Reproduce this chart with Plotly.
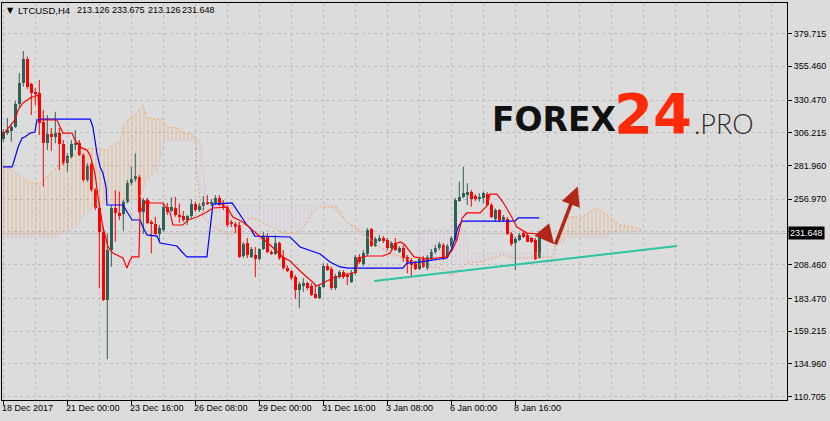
import numpy as np
import plotly.graph_objects as go

# ---------------- data ----------------
bars = list(range(135))
open_ = [301.4, 306.3, 307.8, 310.3, 327.3, 343.3, 360.7, 342.1, 336.6, 335.5,
         314.4, 298.4, 305.1, 302.9, 305.8, 297.7, 283.6, 288.5, 297.7, 298.4,
         289.7, 271.2, 283.1, 263.8, 250.2, 232.9, 182.3, 219.3, 250.2, 247.0,
         246.0, 255.1, 268.8, 271.7, 273.7, 247.7, 256.4, 240.3, 238.6, 231.2,
         234.2, 251.4, 248.5, 250.2, 245.3, 244.5, 241.6, 244.5, 253.4, 249.0,
         252.2, 255.1, 253.4, 253.9, 257.7, 254.4, 251.4, 240.3, 238.6, 237.9,
         214.9, 224.3, 214.4, 215.6, 212.5, 219.9, 229.2, 218.1, 216.2, 224.3,
         214.4, 206.2, 203.8, 199.6, 189.7, 193.4, 194.7, 192.7, 186.5, 183.6,
         192.2, 207.5, 205.0, 191.0, 199.1, 202.8, 200.8, 195.9, 202.1, 214.4,
         208.8, 216.2, 234.9, 222.5, 226.0, 228.5, 226.8, 220.6, 224.3, 218.1,
         220.6, 214.4, 211.9, 209.5, 205.3, 213.2, 205.8, 213.2, 217.6, 220.6,
         223.1, 214.4, 222.3, 226.8, 255.9, 258.4, 260.1, 262.6, 259.4, 256.9,
         257.7, 260.8, 252.7, 242.1, 249.0, 241.6, 242.1, 231.2, 224.3, 226.8,
         231.7, 230.5, 228.0, 226.8, 213.126]
high = [309.0, 317.2, 312.0, 329.8, 350.5, 366.8, 362.6, 343.3, 339.2, 345.3,
        323.1, 319.4, 309.8, 321.8, 309.8, 300.9, 291.0, 300.9, 308.3, 300.9,
        291.0, 283.6, 284.0, 265.3, 253.9, 236.6, 231.7, 252.7, 263.8, 262.6,
        256.4, 271.2, 281.1, 291.0, 274.9, 257.9, 257.9, 241.6, 244.0, 237.9,
        253.9, 254.2, 258.4, 258.8, 253.9, 248.2, 245.3, 256.9, 255.1, 254.2,
        259.4, 260.1, 257.1, 260.1, 260.1, 256.4, 252.7, 241.6, 240.1, 240.1,
        225.3, 228.2, 221.6, 221.6, 220.6, 232.9, 231.7, 219.3, 230.5, 225.5,
        219.3, 208.2, 204.5, 200.8, 195.9, 198.4, 195.9, 194.7, 193.4, 193.4,
        209.5, 209.5, 207.0, 201.6, 204.5, 204.5, 202.3, 204.5, 215.6, 216.4,
        219.3, 235.7, 235.7, 229.0, 230.5, 229.7, 228.2, 226.0, 228.2, 222.3,
        223.1, 215.6, 213.2, 211.2, 214.2, 214.9, 215.6, 220.1, 223.1, 225.3,
        224.5, 223.8, 229.7, 257.9, 270.0, 281.1, 268.8, 263.8, 260.8, 261.4,
        262.6, 262.3, 254.2, 250.2, 249.7, 245.3, 244.0, 232.9, 229.2, 232.0,
        233.4, 232.2, 229.0, 228.2, 233.675]
low = [299.4, 304.6, 299.6, 309.8, 325.3, 340.4, 338.7, 319.4, 326.8, 304.6,
       266.3, 293.4, 292.9, 298.4, 278.6, 282.3, 277.4, 287.3, 293.4, 289.0,
       270.0, 270.0, 262.6, 249.0, 191.0, 181.5, 138.4, 207.0, 225.5, 241.6,
       233.7, 253.9, 267.5, 270.0, 246.5, 231.2, 238.6, 216.9, 230.5, 225.5,
       232.9, 245.3, 247.7, 244.0, 239.6, 240.3, 237.9, 242.8, 247.7, 247.5,
       248.5, 252.7, 251.9, 252.7, 251.9, 249.0, 236.2, 236.4, 231.9, 213.4,
       213.4, 213.4, 213.4, 199.3, 211.4, 219.3, 216.9, 215.6, 215.6, 211.9,
       204.5, 203.0, 197.1, 183.0, 176.6, 188.4, 189.7, 185.3, 183.6, 183.0,
       191.0, 203.8, 189.7, 189.7, 197.9, 197.9, 193.4, 194.9, 200.8, 209.0,
       207.5, 214.9, 221.6, 221.6, 225.3, 224.5, 219.3, 219.3, 218.6, 217.1,
       210.7, 202.1, 199.6, 204.5, 204.5, 206.0, 204.5, 211.9, 216.4, 219.3,
       211.9, 213.4, 220.8, 226.0, 255.1, 257.7, 252.7, 251.4, 255.7, 255.1,
       253.9, 251.9, 243.1, 240.3, 240.1, 240.1, 230.5, 222.3, 204.5, 226.0,
       228.2, 225.3, 224.5, 211.9, 213.126]
close = [307.0, 308.3, 310.3, 327.3, 343.3, 360.7, 340.4, 335.9, 334.9, 313.7,
         298.9, 305.1, 302.9, 305.8, 297.7, 283.6, 289.0, 297.9, 298.9, 289.7,
         271.2, 281.6, 263.8, 250.2, 232.9, 182.3, 219.3, 250.2, 247.0, 244.5,
         255.1, 268.8, 271.7, 274.2, 247.7, 256.4, 239.6, 238.6, 231.2, 235.4,
         251.4, 247.7, 251.4, 245.3, 243.6, 241.6, 244.5, 253.4, 249.0, 252.2,
         255.1, 253.4, 255.1, 257.7, 252.7, 250.2, 237.9, 238.6, 236.4, 214.4,
         223.8, 215.6, 219.9, 212.7, 219.9, 229.2, 218.1, 216.2, 224.3, 213.2,
         205.8, 203.8, 198.4, 189.7, 194.2, 194.7, 191.2, 186.0, 184.0, 192.2,
         207.5, 204.5, 191.0, 200.1, 202.8, 199.1, 199.3, 202.1, 214.4, 210.5,
         217.3, 234.2, 222.5, 227.5, 228.5, 226.0, 220.6, 224.3, 219.3, 220.6,
         213.2, 210.7, 208.2, 205.3, 212.7, 207.0, 214.4, 218.1, 221.1, 223.6,
         213.2, 222.5, 228.0, 256.4, 258.8, 261.4, 262.6, 256.9, 256.9, 258.8,
         261.8, 252.7, 244.0, 249.0, 241.6, 243.6, 231.2, 223.8, 227.3, 230.5,
         229.2, 225.5, 225.5, 212.7, 231.648]

# Ichimoku lines (bar index, price)
tenkan_x = [-0.1, 2.9, 3.7, 4.9, 6.7, 8.7, 8.9, 9.7, 13.4, 14.2, 14.9, 17.2, 17.9, 19.2, 20.9,
            21.7, 22.9, 23.7, 24.9, 26.2, 27.4, 29.9, 30.9, 31.7, 32.2, 33.9, 34.2, 35.9, 36.7,
            39.9, 41.7, 42.4, 44.9, 46.2, 48.4, 50.9, 52.4, 55.9, 57.4, 59.9, 61.7, 64.2, 66.7,
            69.9, 71.7, 74.2, 76.7, 78.4, 80.4, 82.4, 84.2, 86.7, 88.2, 88.7, 90.9, 94.9, 96.7,
            97.9, 99.2, 100.2, 101.7, 102.7, 105.9, 110.9, 112.2, 113.4, 114.7, 115.9, 119.2,
            120.9, 121.7, 123.4, 124.9, 126.7, 128.4, 130.9, 134.0]
tenkan = [304.6, 315.7, 323.1, 328.3, 332.0, 334.2, 317.9, 315.7, 315.7, 310.5, 306.0, 306.0,
          300.9, 295.7, 293.4, 289.7, 276.4, 258.6, 236.4, 221.6, 217.1, 213.4, 206.0, 211.9,
          214.2, 214.2, 247.5, 256.4, 254.2, 254.2, 246.8, 237.9, 237.9, 241.6, 243.8, 247.5,
          250.5, 251.2, 243.8, 240.1, 235.7, 229.0, 223.1, 214.2, 211.2, 203.8, 197.1, 192.7,
          195.6, 198.6, 200.1, 201.6, 203.0, 213.4, 214.9, 214.9, 217.1, 223.8, 225.3, 223.8,
          217.9, 214.2, 212.7, 214.2, 219.3, 226.8, 243.1, 246.8, 246.8, 252.0, 260.8, 260.8,
          254.9, 246.0, 236.4, 231.9, 231.2]
kijun_x = [-0.1, 2.2, 2.9, 3.7, 4.7, 5.4, 6.7, 7.9, 8.4, 9.7, 21.7, 22.4, 22.9, 23.4, 24.2,
           24.9, 25.7, 25.9, 29.9, 31.2, 32.2, 34.2, 34.9, 35.9, 38.4, 39.2, 43.4, 44.7, 45.9,
           50.9, 51.4, 51.7, 52.2, 52.4, 57.2, 58.4, 59.2, 59.9, 60.9, 61.7, 62.9, 71.7, 72.9,
           74.2, 79.2, 81.7, 84.2, 86.2, 99.9, 100.9, 104.2, 110.9, 112.2, 113.7, 114.7, 127.9,
           128.7, 134.0]
kijun = [280.9, 280.9, 287.5, 295.7, 302.3, 303.1, 306.0, 306.8, 315.7, 316.4, 316.4, 310.5,
         300.9, 291.2, 280.9, 276.4, 266.0, 252.7, 252.7, 246.8, 241.6, 241.6, 236.4, 230.5,
         229.7, 224.5, 222.3, 217.9, 214.2, 214.2, 226.8, 236.4, 251.2, 253.4, 254.2, 249.0,
         245.3, 241.6, 237.9, 235.7, 229.7, 229.0, 225.3, 221.6, 216.4, 210.5, 206.8, 206.0,
         206.0, 209.7, 210.5, 213.4, 220.8, 236.4, 240.8, 240.8, 243.1, 243.1]
span_a_x = [-0.3, 2.9, 6.7, 9.2, 10.9, 13.4, 15.9, 19.2, 20.9, 25.9, 27.4, 29.2, 29.9, 31.2,
            33.4, 34.9, 35.9, 39.9, 40.9, 43.4, 44.7, 47.4, 48.2, 48.4, 49.2, 49.9, 52.4, 54.2,
            56.7, 59.2, 61.7, 63.4, 65.9, 68.4, 69.9, 73.4, 74.9, 77.4, 79.2, 83.4, 85.9, 89.2,
            90.9, 94.2, 96.7, 99.9, 102.4, 104.2, 106.7, 109.2, 110.9, 112.4, 113.4, 114.7,
            115.9, 119.2, 120.9, 123.4, 124.9, 127.4, 131.7, 134.2, 137.4, 137.9, 139.2, 139.7,
            140.9, 144.9, 147.4, 148.7, 150.9, 153.4, 154.2, 156.2, 159.7]
span_a = [283.8, 277.1, 269.0, 269.0, 273.4, 280.9, 286.0, 293.4, 294.9, 293.4, 297.2, 299.4,
          310.5, 315.7, 320.9, 326.8, 317.2, 315.7, 310.5, 309.8, 306.8, 304.6, 300.9, 274.9,
          256.4, 243.8, 236.4, 234.2, 229.0, 235.7, 243.1, 241.6, 237.9, 234.2, 231.9, 231.9,
          235.7, 246.8, 251.2, 251.2, 240.1, 234.2, 228.2, 221.6, 217.1, 214.2, 210.5, 208.2,
          206.8, 206.0, 202.3, 200.8, 203.1, 206.8, 209.7, 210.5, 211.9, 214.2, 215.6, 213.4,
          213.4, 214.2, 214.2, 223.1, 225.3, 235.7, 243.8, 243.8, 249.0, 250.5, 245.3, 240.1,
          237.9, 237.1, 234.2]
span_b_x = [-0.3, 13.4, 14.2, 18.4, 19.9, 21.7, 24.2, 32.4, 34.2, 35.9, 38.4, 40.4, 49.2, 49.9,
            50.9, 81.7, 84.2, 85.9, 88.4, 90.9, 96.7, 102.9, 103.4, 103.7, 115.9, 116.2, 136.2,
            136.4, 137.9, 138.2, 140.2, 140.8, 150.9, 151.7, 159.7]
span_b = [229.0, 229.0, 231.9, 236.4, 243.8, 249.0, 253.4, 256.4, 258.6, 271.2, 278.6, 300.9,
          300.9, 278.6, 252.7, 252.7, 245.3, 240.1, 232.7, 229.7, 215.6, 210.5, 210.5, 234.2,
          234.2, 217.1, 217.1, 210.5, 210.5, 224.5, 224.5, 229.0, 229.0, 231.9, 233.4]

trend_x = [92.7, 168.4]
trend_y = [196.4, 222.3]

x_label_bars = [0, 16, 32, 48, 64, 80, 96, 112, 128]
x_labels = ["18 Dec 2017", "21 Dec 00:00", "23 Dec 16:00", "26 Dec 08:00", "29 Dec 00:00",
            "31 Dec 16:00", "3 Jan 08:00", "6 Jan 00:00", "8 Jan 16:00"]
y_tick_vals = [379.715, 355.460, 330.470, 306.215, 281.960, 256.970, 232.715, 208.460,
               183.470, 159.215, 134.960, 110.705]
y_tick_text = ["379.715", "355.460", "330.470", "306.215", "281.960", "256.970", "",
               "208.460", "183.470", "159.215", "134.960", "110.705"]
last_price = 231.648
symbol_text = "LTCUSD,H4"
ohlc_text = ["213.126", "233.675", "213.126", "231.648"]

# ---------------- layout geometry ----------------
W, H = 830, 421
L, R, T, B = 2, 787, 3, 400
PW, PH = R - L, B - T
XR = [-0.325, -0.325 + PW / 4.0]
YR = [108.2, 402.4]


def px_x(px):
    return (px - L) / PW


def px_y(py):
    return (B - py) / PH


BG = "#dcdcdc"
GRID = "#bdbdbd"
BULL = "#2f5f55"
BEAR = "#ff0000"
FONT = "Liberation Sans"

fig = go.Figure()

# ---- cloud hatch ----
ax_ = np.asarray(span_a_x, float)
bx_ = np.asarray(span_b_x, float)
grid = np.union1d(ax_, bx_)
ga = np.interp(grid, ax_, span_a)
gb = np.interp(grid, bx_, span_b)
xs, ya, yb = [grid[0]], [ga[0]], [gb[0]]
for k in range(1, len(grid)):
    d0, d1 = ga[k - 1] - gb[k - 1], ga[k] - gb[k]
    if d0 * d1 < 0:
        t = d0 / (d0 - d1)
        xc = grid[k - 1] + t * (grid[k] - grid[k - 1])
        yc = ga[k - 1] + t * (ga[k] - ga[k - 1])
        xs.append(xc); ya.append(yc); yb.append(yc)
    xs.append(grid[k]); ya.append(ga[k]); yb.append(gb[k])
xs = np.array(xs); ya = np.array(ya); yb = np.array(yb)
top = np.maximum(ya, yb)

for lower, col in ((yb, "#f4a460"), (ya, "#d8bfd8")):
    fig.add_trace(go.Scatter(x=xs, y=lower, mode="lines", line=dict(width=0),
                             hoverinfo="skip", showlegend=False))
    fig.add_trace(go.Scatter(x=xs, y=top, mode="lines", line=dict(width=0), fill="tonexty",
                             fillcolor="rgba(0,0,0,0)",
                             fillpattern=dict(shape="|", fgcolor=col, bgcolor="rgba(0,0,0,0)",
                                              size=4, solidity=0.25, fgopacity=0.6),
                             hoverinfo="skip", showlegend=False))

fig.add_trace(go.Scatter(x=span_b_x, y=span_b, mode="lines",
                         line=dict(color="#d8bfd8", width=1, dash="2px,2px"),
                         hoverinfo="skip", showlegend=False))
fig.add_trace(go.Scatter(x=span_a_x, y=span_a, mode="lines",
                         line=dict(color="#f4a460", width=1, dash="2px,2px"),
                         hoverinfo="skip", showlegend=False))

# ---- bid line ----
fig.add_shape(type="line", xref="paper", yref="y", x0=0, x1=1, y0=last_price, y1=last_price,
              line=dict(color="#c0c0c0", width=1), layer="below")

# ---- candles ----
o = np.array(open_); h = np.array(high); lo = np.array(low); c = np.array(close)
up = c >= o
for mask, col in ((up, BULL), (~up, BEAR)):
    xi = np.array(bars)[mask]
    wx, wy = [], []
    for xv, hv, lv in zip(xi, h[mask], lo[mask]):
        wx += [xv, xv, None]
        wy += [lv, hv, None]
    fig.add_trace(go.Scatter(x=wx, y=wy, mode="lines", line=dict(color=col, width=1),
                             hoverinfo="skip", showlegend=False))
    base = np.minimum(o, c)[mask]
    ht = np.maximum(np.abs(c - o)[mask], 0.45)
    fig.add_trace(go.Bar(x=xi, y=ht, base=base, width=0.78, marker=dict(color=col, line=dict(width=0)),
                         hoverinfo="skip", showlegend=False))

# ---- tenkan / kijun ----
fig.add_trace(go.Scatter(x=kijun_x, y=kijun, mode="lines", line=dict(color="#0000ff", width=1.2),
                         hoverinfo="skip", showlegend=False))
fig.add_trace(go.Scatter(x=tenkan_x, y=tenkan, mode="lines", line=dict(color="#ff0000", width=1.2),
                         hoverinfo="skip", showlegend=False))

# ---- trend line ----
fig.add_trace(go.Scatter(x=trend_x, y=trend_y, mode="lines", line=dict(color="#2cc4a2", width=2),
                         hoverinfo="skip", showlegend=False))

# ---- arrows ----
ARROW = "#b3261a"
fig.add_annotation(x=137.7, y=223.6, ax=134.6, ay=234.6, xref="x", yref="y", axref="x", ayref="y",
                   text="", showarrow=True, arrowhead=2, arrowsize=1.1, arrowwidth=3.5,
                   arrowcolor=ARROW)
fig.add_annotation(x=143.6, y=266.5, ax=137.9, ay=222.4, xref="x", yref="y", axref="x", ayref="y",
                   text="", showarrow=True, arrowhead=2, arrowsize=1.1, arrowwidth=3.5,
                   arrowcolor=ARROW)

# ---- x labels (left aligned at their tick) ----
for xb, lab in zip(x_label_bars, x_labels):
    fig.add_annotation(x=xb, y=0, xref="x", yref="paper", text=lab, showarrow=False,
                       xanchor="left", yanchor="top", xshift=-3, yshift=-1,
                       font=dict(family=FONT, size=9, color="#000000"))

# ---- current price box ----
fig.add_annotation(x=1, y=last_price, xref="paper", yref="y", text="231.648", showarrow=False,
                   xanchor="left", yanchor="middle", xshift=1, bgcolor="#000000", borderpad=1,
                   font=dict(family=FONT, size=9, color="#ffffff"))

# ---- title (symbol + OHLC) ----
TF = dict(family=FONT, size=9, color="#000000")
fig.add_annotation(x=px_x(5), y=px_y(10), xref="paper", yref="paper", text="\u25BC",
                   showarrow=False, xanchor="left", yanchor="middle",
                   font=dict(family="DejaVu Sans", size=8, color="#000000"))
fig.add_annotation(x=px_x(16), y=px_y(10), xref="paper", yref="paper", text=symbol_text,
                   showarrow=False, xanchor="left", yanchor="middle",
                   font=dict(family=FONT, size=9.5, color="#000000"))
for xp, txt in zip([75, 110, 146, 180], ohlc_text):
    fig.add_annotation(x=px_x(xp), y=px_y(10), xref="paper", yref="paper", text=txt,
                       showarrow=False, xanchor="left", yanchor="middle", font=TF)

# ---- logo ----
fig.add_annotation(x=px_x(490), y=px_y(119), xref="paper", yref="paper", text="FOREX",
                   showarrow=False, xanchor="left", yanchor="middle",
                   font=dict(family="DejaVu Sans", size=33, color="#111111", weight=800))
fig.add_annotation(x=px_x(612), y=px_y(113), xref="paper", yref="paper", text="24",
                   showarrow=False, xanchor="left", yanchor="middle",
                   font=dict(family="DejaVu Sans", size=56, color="#ff2a0a", weight=800))
fig.add_annotation(x=px_x(692), y=px_y(123), xref="paper", yref="paper", text=".PRO",
                   showarrow=False, xanchor="left", yanchor="middle",
                   font=dict(family="Lato", size=27, color="#2a2a2a", weight=300))

fig.update_layout(
    width=W, height=H,
    margin=dict(l=L, r=W - R, t=T, b=H - B, pad=0),
    paper_bgcolor=BG, plot_bgcolor=BG,
    barmode="overlay", bargap=0, showlegend=False,
    xaxis=dict(range=XR, tickvals=list(range(0, 200, 8)), showticklabels=False, ticks="",
               showgrid=True, gridcolor=GRID, griddash="3px,3px", gridwidth=1, zeroline=False,
               showline=True, linecolor="#000000", linewidth=1, mirror=True,
               minor=dict(tickvals=x_label_bars, ticks="outside", ticklen=4, tickcolor="#000000",
                          showgrid=False)),
    yaxis=dict(range=YR, side="right", tickvals=y_tick_vals, ticktext=y_tick_text,
               ticks="outside", ticklen=4, tickcolor="#000000",
               tickfont=dict(family=FONT, size=9, color="#000000"),
               showgrid=True, gridcolor=GRID, griddash="3px,3px", gridwidth=1, zeroline=False,
               showline=True, linecolor="#000000", linewidth=1, mirror=True),
)

fig.write_html("out.html", config={"displayModeBar": False},
               post_script="document.body.style.margin='0';document.body.style.background='#dcdcdc';")
